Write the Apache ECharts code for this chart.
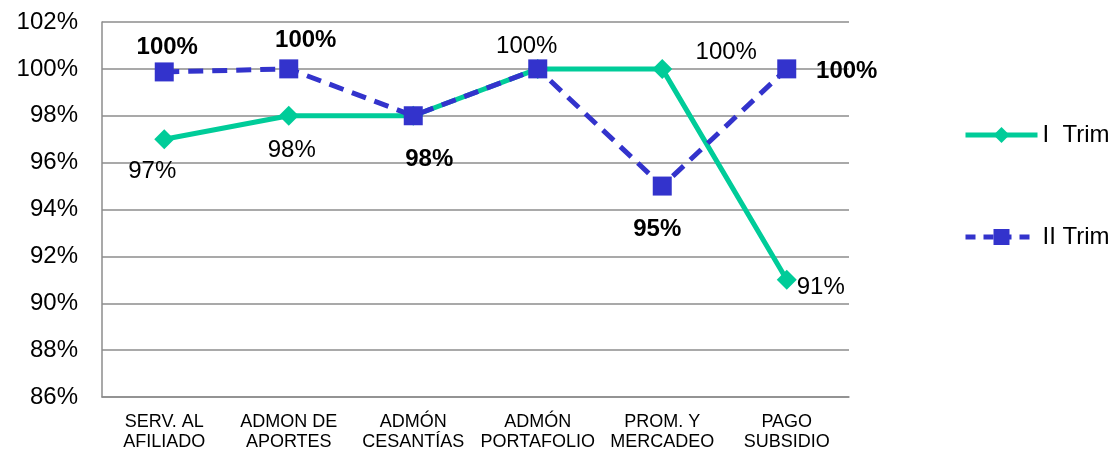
<!DOCTYPE html>
<html>
<head>
<meta charset="utf-8">
<script src="https://cdn.jsdelivr.net/npm/echarts@6/dist/echarts.min.js"></script>
<style>
  html, body { margin: 0; padding: 0; background: #fff; }
  #chart { width: 1118px; height: 452px; }
</style>
</head>
<body>
<div id="chart"></div>
<script>
// Process areas on the x axis
const categories = [
  'SERV. AL\nAFILIADO',
  'ADMON DE\nAPORTES',
  'ADMÓN\nCESANTÍAS',
  'ADMÓN\nPORTAFOLIO',
  'PROM. Y\nMERCADEO',
  'PAGO\nSUBSIDIO'
];

// Compliance per quarter (%)
const trim1 = [97, 98, 98, 100, 100, 91];
const trim2 = [99.87, 100, 98, 100, 95, 100];

const seriesNames = ['I  Trim', 'II Trim'];

// Y axis range (%)
const yMin = 86, yMax = 102, yStep = 2;

// Per-point label placement: [show, dx, dy]
const trim1Labels = [
  [true, -12, 32], [true, 3, 35], [false, 0, 0],
  [true, -11, -23], [true, 64, -17], [true, 34, 8]
];
const trim2Labels = [
  [true, 3, -25], [true, 17, -29], [true, 16, 44],
  [false, 0, 0], [true, -5, 43], [true, 60, 2]
];

const GREEN = '#00CC99';
const BLUE = '#3333CC';
const FONT = '"Liberation Sans", Arial, sans-serif';

function buildData(values, labels, bold) {
  return values.map((v, i) => ({
    value: v,
    label: {
      show: labels[i][0],
      position: 'inside',
      offset: [labels[i][1], labels[i][2]],
      align: 'center',
      verticalAlign: 'middle',
      fontFamily: FONT,
      fontSize: 24,
      fontWeight: bold ? 'bold' : 'normal',
      color: '#000',
      formatter: (p) => Math.round(p.value) + '%'
    }
  }));
}

const chart = echarts.init(document.getElementById('chart'), null, { renderer: 'canvas' });

chart.setOption({
  animation: false,
  backgroundColor: '#fff',
  grid: { left: 102, right: 269, top: 22, bottom: 52, containLabel: false },
  legend: {
    orient: 'vertical',
    left: 963,
    top: 123,
    padding: 0,
    itemWidth: 72,
    itemHeight: 20,
    itemGap: 78,
    textStyle: { fontFamily: FONT, fontSize: 24, color: '#000' },
    data: [
      { name: seriesNames[0], itemStyle: { color: GREEN }, lineStyle: { color: GREEN, width: 5 } },
      { name: seriesNames[1], itemStyle: { color: BLUE }, lineStyle: { color: BLUE, width: 5, type: [10, 8] } }
    ]
  },
  xAxis: {
    type: 'category',
    data: categories,
    boundaryGap: true,
    axisLine: { show: true, lineStyle: { color: '#8c8c8c', width: 1.5 } },
    axisTick: { show: false },
    axisLabel: {
      interval: 0,
      margin: 15,
      fontFamily: FONT,
      fontSize: 18,
      lineHeight: 20,
      color: '#000'
    },
    splitLine: { show: false }
  },
  yAxis: {
    type: 'value',
    min: yMin,
    max: yMax,
    interval: yStep,
    axisLine: { show: true, lineStyle: { color: '#8c8c8c', width: 1.5 } },
    axisTick: { show: false },
    axisLabel: {
      margin: 24,
      fontFamily: FONT,
      fontSize: 24,
      color: '#000',
      formatter: (v) => v + '%'
    },
    splitLine: { show: true, lineStyle: { color: '#8c8c8c', width: 1.5 } }
  },
  series: [
    {
      name: seriesNames[0],
      type: 'line',
      data: buildData(trim1, trim1Labels, false),
      symbol: 'diamond',
      symbolSize: 20,
      itemStyle: { color: GREEN },
      lineStyle: { color: GREEN, width: 5 },
      z: 2
    },
    {
      name: seriesNames[1],
      type: 'line',
      data: buildData(trim2, trim2Labels, true),
      symbol: 'rect',
      symbolSize: 19,
      itemStyle: { color: BLUE },
      lineStyle: { color: BLUE, width: 5, type: [15, 9] },
      z: 3
    }
  ]
});
</script>
</body>
</html>
